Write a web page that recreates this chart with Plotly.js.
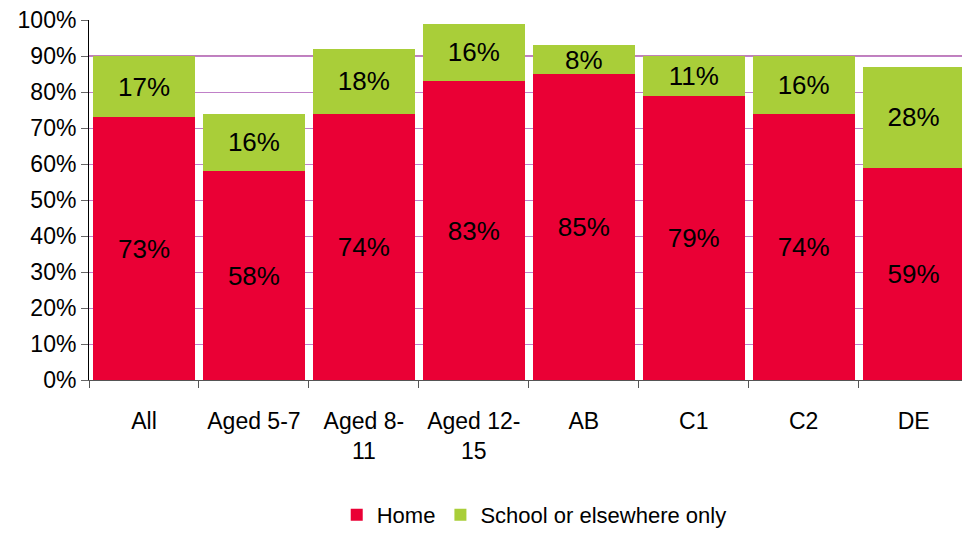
<!DOCTYPE html>
<html>
<head>
<meta charset="utf-8">
<script src="https://cdn.plot.ly/plotly-3.0.1.min.js"></script>
<style>
  html, body { margin: 0; padding: 0; background: #fff; }
  #chart { width: 962px; height: 536px; }
</style>
</head>
<body>
<div id="chart"></div>
<script>
// categories and values
const categories = ['All', 'Aged 5-7', 'Aged 8-<br>11', 'Aged 12-<br>15', 'AB', 'C1', 'C2', 'DE'];
const home = [73, 58, 74, 83, 85, 79, 74, 59];
const schoolOnly = [17, 16, 18, 16, 8, 11, 16, 28];
const yTicks = [0, 10, 20, 30, 40, 50, 60, 70, 80, 90, 100];
const yTickLabels = yTicks.map(v => v + '%');

const font = 'Liberation Sans, Arial, sans-serif';

function barTrace(name, values, color) {
    return {
        type: 'bar',
        name: name,
        x: categories,
        y: values,
        text: values.map(v => v + '%'),
        texttemplate: '%{text}',
        marker: { color: color, line: { width: 0 } },
        textposition: 'inside',
        insidetextanchor: 'middle',
        textangle: 0,
        constraintext: 'none',
        textfont: { family: font, size: 26, color: '#000' },
        hoverinfo: 'skip'
    };
}

const traces = [
    barTrace('Home', home, '#EA0035'),
    barTrace('School or elsewhere only', schoolOnly, '#A9CE39')
];

const layout = {
    width: 962,
    height: 536,
    margin: { t: 20, r: 0, b: 152, l: 89 },
    barmode: 'stack',
    bargap: 0.075,
    paper_bgcolor: '#fff',
    plot_bgcolor: '#fff',
    font: { family: font, color: '#000' },
    xaxis: {
        type: 'category',
        range: [-0.5, 7.44],
        automargin: false,
        tickson: 'boundaries',
        ticks: 'outside',
        ticklen: 7,
        tickcolor: '#555',
        showline: true,
        linecolor: '#555',
        linewidth: 1,
        showgrid: false,
        ticklabelstandoff: 20,
        tickfont: { family: font, size: 23, color: '#000' },
        fixedrange: true
    },
    yaxis: {
        range: [0, 100],
        automargin: false,
        tickmode: 'array',
        tickvals: yTicks,
        ticktext: yTickLabels,
        ticks: 'outside',
        ticklen: 7,
        tickcolor: '#666',
        showline: true,
        linecolor: '#000',
        linewidth: 1,
        showgrid: true,
        gridcolor: '#C080C8',
        gridwidth: 1,
        zeroline: false,
        tickfont: { family: font, size: 23, color: '#000' },
        fixedrange: true
    },
    shapes: [{
        type: 'line', layer: 'below',
        xref: 'paper', x0: 0, x1: 1,
        yref: 'y', y0: 90, y1: 90,
        line: { color: '#800070', width: 1 }
    }],
    showlegend: true,
    legend: {
        orientation: 'h',
        x: 0.51, xanchor: 'center',
        y: -0.375, yanchor: 'middle',
        font: { family: font, size: 22, color: '#000' },
        itemwidth: 30,
        traceorder: 'normal'
    }
};

Plotly.newPlot('chart', traces, layout, { displayModeBar: false, staticPlot: true });
</script>
</body>
</html>
